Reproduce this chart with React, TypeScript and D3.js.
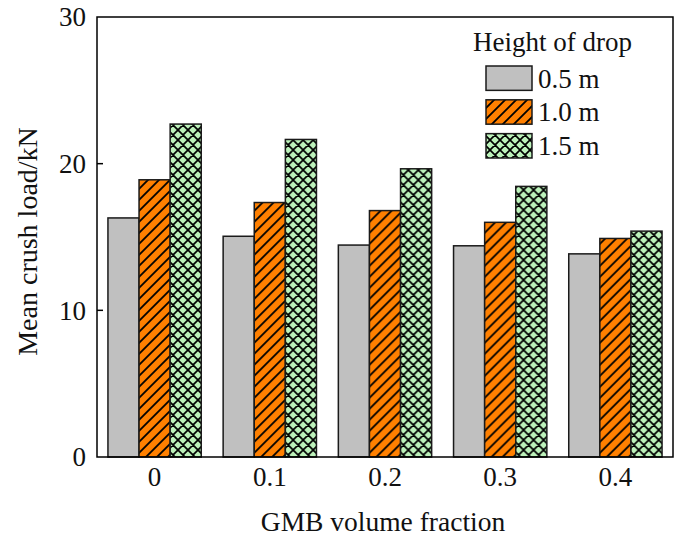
import * as d3 from 'd3'

const fractions = ['0', '0.1', '0.2', '0.3', '0.4']
const heights = ['0.5 m', '1.0 m', '1.5 m']
const load05 = [16.3, 15.05, 14.45, 14.4, 13.85]
const load10 = [18.9, 17.35, 16.8, 16.0, 14.9]
const load15 = [22.7, 21.65, 19.65, 18.45, 15.4]
const yTicks = [0, 10, 20, 30]

const series = [load05, load10, load15]
const fills = ['#c0c0c0', 'url(#hatch)', 'url(#cross)']

const W = 682
const H = 538
const margin = { top: 17, right: 9, bottom: 81, left: 97 }
const font = '"Liberation Serif", "Times New Roman", serif'

export default function App() {
  const x = d3
    .scaleBand()
    .domain(fractions)
    .range([margin.left, W - margin.right])
    .paddingInner(0.19)
    .paddingOuter(0.095)
  const inner = d3.scaleBand().domain(heights).range([0, x.bandwidth()])
  const y = d3.scaleLinear().domain([0, 30]).range([H - margin.bottom, margin.top])

  const legendX = 486
  const legendY = d3.scaleBand().domain(heights).range([66, 158]).paddingInner(0.28)

  return (
    <svg width={W} height={H} style={{ position: 'absolute', left: 0, top: 0 }} fontFamily={font}>
      <defs>
        <pattern id="hatch" patternUnits="userSpaceOnUse" width="11" height="11">
          <rect width="11" height="11" fill="#ff8000" />
          <path d="M0,11 L11,0 M-2,2 L2,-2 M9,13 L13,9" stroke="#000" strokeWidth="1.8" />
        </pattern>
        <pattern id="cross" patternUnits="userSpaceOnUse" width="10" height="10">
          <rect width="10" height="10" fill="#bdf3bb" />
          <path
            d="M0,10 L10,0 M-2,2 L2,-2 M8,12 L12,8 M0,0 L10,10 M-2,8 L2,12 M8,-2 L12,2"
            stroke="#000"
            strokeWidth="1.7"
          />
        </pattern>
      </defs>

      {fractions.map((f, i) => (
        <g key={f} transform={`translate(${x(f)},0)`}>
          {series.map((vals, s) => (
            <rect
              key={s}
              x={inner(heights[s])}
              y={y(vals[i])}
              width={inner.bandwidth()}
              height={y(0) - y(vals[i])}
              fill={fills[s]}
              stroke="#1a1a1a"
              strokeWidth="1.5"
            />
          ))}
        </g>
      ))}

      <rect
        x={margin.left}
        y={margin.top}
        width={W - margin.left - margin.right}
        height={H - margin.top - margin.bottom}
        fill="none"
        stroke="#000"
        strokeWidth="1.5"
      />

      {yTicks.map(t => (
        <g key={t}>
          {t > 0 && t < 30 && (
            <line x1={margin.left} x2={margin.left + 6} y1={y(t)} y2={y(t)} stroke="#000" strokeWidth="1.5" />
          )}
          <text x={margin.left - 11} y={y(t)} dy="0.35em" textAnchor="end" fontSize="27" fill="#111">
            {t}
          </text>
        </g>
      ))}

      {fractions.map(f => (
        <text key={f} x={x(f)! + x.bandwidth() / 2} y={486} textAnchor="middle" fontSize="27" fill="#111">
          {f}
        </text>
      ))}

      <text x={(margin.left + W - margin.right) / 2 - 2} y={531} textAnchor="middle" fontSize="27.5" fill="#111">
        GMB volume fraction
      </text>
      <text
        transform={`translate(37,${(130 + 353) / 2}) rotate(-90)`}
        textAnchor="middle"
        fontSize="28"
        fill="#111"
      >
        Mean crush load/kN
      </text>

      <text x={473} y={51} fontSize="27" fill="#111">
        Height of drop
      </text>
      {heights.map((h, s) => (
        <g key={h}>
          <rect
            x={legendX}
            y={legendY(h)}
            width={46}
            height={legendY.bandwidth()}
            fill={fills[s]}
            stroke="#1a1a1a"
            strokeWidth="1.5"
          />
          <text x={legendX + 52} y={legendY(h)! + legendY.bandwidth() / 2} dy="0.35em" fontSize="27" fill="#111">
            {h}
          </text>
        </g>
      ))}
    </svg>
  )
}
